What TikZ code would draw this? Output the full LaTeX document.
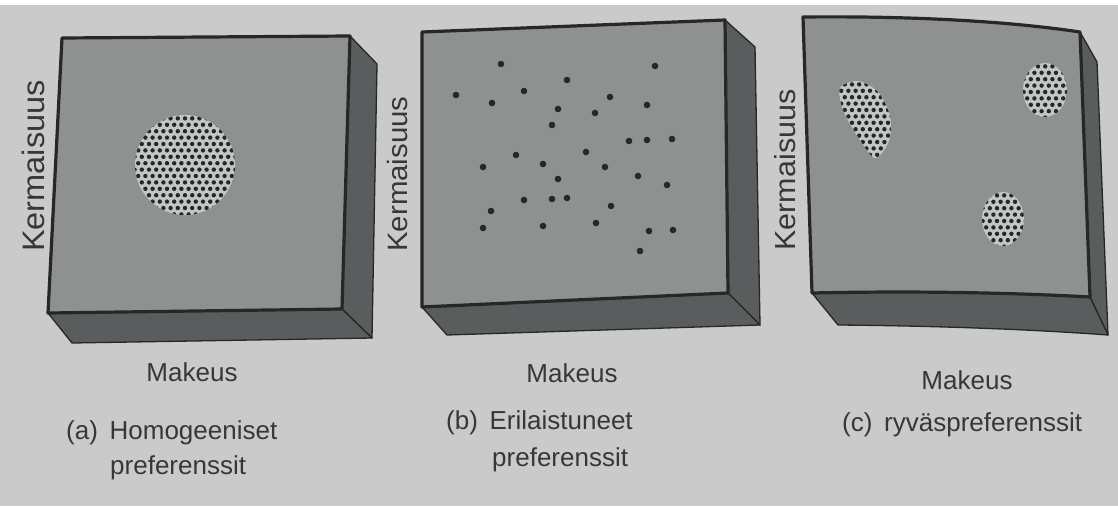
\documentclass[tikz,border=0pt]{standalone}
\usepackage{fontspec}
\setmainfont{Liberation Sans}
\definecolor{paper}{HTML}{C9CAC9}
\definecolor{face}{HTML}{8F9191}
\definecolor{sideface}{HTML}{5A5D5E}
\definecolor{edge}{HTML}{262727}
\definecolor{blobbg}{HTML}{C4C5C5}
\definecolor{dotc}{HTML}{262728}
\definecolor{ink}{HTML}{363737}
\newcommand\mydotgrid[4]{%
  \foreach \j in {0,...,#4}{%
    \foreach \i in {0,...,#3}{%
      \pgfmathsetmacro\px{#1+\i*7.2+mod(\j,2)*3.6}%
      \pgfmathsetmacro\py{#2+\j*6.4}%
      \fill[dotc] (\px,\py) circle[radius=2.2];
    }%
  }%
}
\tikzset{
  frontface/.style={fill=face, draw=edge, line width=3.2pt, line join=round},
  sideface/.style={fill=sideface, draw=edge, line width=1.3pt, line join=round},
  axislabel/.style={text=ink, inner sep=0pt},
  caption/.style={text=ink, inner sep=0pt, anchor=west, font=\fontsize{26}{30}\selectfont},
  scatterdot/.style={fill=dotc},
}
\begin{document}
\begin{tikzpicture}[x=1pt,y=-1pt]
\useasboundingbox (0,0) rectangle (1118,506);
\fill[paper] (0,0) rectangle (1118,506);
\fill[white] (0,0) rectangle (1118,5);

% ---------- Panel (a) ----------
\draw[sideface] (350,36) -- (377,64) -- (372,338) -- (342,309) -- cycle;
\draw[sideface] (48,313) -- (72,343) -- (372,338) -- (342,309) -- cycle;
\draw[frontface] (62,38) -- (350,36) -- (342,309) -- (48,313) -- cycle;
\begin{scope}
  \clip (185,165) circle[radius=50];
  \fill[blobbg] (185,165) circle[radius=50];
  \mydotgrid{131}{112}{15}{17}
\end{scope}
\node[axislabel, rotate=90, font=\fontsize{31}{34}\selectfont] (ka) at (33,166) {\scalebox{1.05}[1]{Kermaisuus}};
\node[axislabel, font=\fontsize{26}{30}\selectfont] (ma) at (192,372) {Makeus};
\node[caption] (ca) at (66,433) {(a)\hspace{0.45em}Homogeeniset};
\node[caption] (cap) at (110,468) {preferenssit};

% ---------- Panel (b) ----------
\draw[sideface] (725,20) -- (755,47) -- (760,325) -- (728,293) -- cycle;
\draw[sideface] (422,307) -- (447,335) -- (760,325) -- (728,293) -- cycle;
\draw[frontface] (422,32) -- (725,20) -- (728,293) -- (422,307) -- cycle;
\foreach \x/\y in {501/64,655/66,567/80,456/95,524/91,610/97,492/103,647/105,558/109,595/113,552/125,629/141,647/140,672/139,516/155,586/152,483/167,543/164,605/167,558/179,638/176,667/185,524/200,552/199,567/198,491/211,611/206,483/228,543/226,596/223,649/231,673/230,640/251}
  \fill[scatterdot] (\x,\y) circle[radius=3.3];
\node[axislabel, rotate=90, font=\fontsize{28}{32}\selectfont] (kb) at (397,174) {\scalebox{1.05}[1]{Kermaisuus}};
\node[axislabel, font=\fontsize{26}{30}\selectfont] (mb) at (572,373) {Makeus};
\node[caption] (cb) at (446,423) {(b)\hspace{0.45em}Erilaistuneet};
\node[caption] (cbp) at (492,460) {preferenssit};

% ---------- Panel (c) ----------
\draw[sideface] (1080,32) -- (1097,62) -- (1108,335) -- (1090,297) -- cycle;
\draw[sideface] (812,293) -- (838,325) .. controls (950,326) and (1040,330) .. (1108,335) -- (1090,297) .. controls (1000,292) and (900,291) .. (812,293) -- cycle;
\draw[frontface] (803,17) .. controls (900,16) and (1000,20) .. (1080,32) -- (1090,297) .. controls (1000,292) and (900,291) .. (812,293) -- cycle;
\begin{scope}
  \clip plot[smooth cycle] coordinates {(840,88) (858,81) (878,92) (890,116) (889,141) (875,158) (858,137) (843,110)};
  \fill[blobbg] (830,75) rectangle (895,162);
  \mydotgrid{834}{78}{9}{13}
\end{scope}
\begin{scope}
  \clip (1045,90) ellipse[x radius=22, y radius=27];
  \fill[blobbg] (1045,90) ellipse[x radius=22, y radius=27];
  \mydotgrid{1020}{60}{7}{9}
\end{scope}
\begin{scope}
  \clip (1003,219) ellipse[x radius=21, y radius=27];
  \fill[blobbg] (1003,219) ellipse[x radius=21, y radius=27];
  \mydotgrid{979}{189}{7}{9}
\end{scope}
\node[axislabel, rotate=90, font=\fontsize{29}{32}\selectfont] (kc) at (785,170) {\scalebox{1.05}[1]{Kermaisuus}};
\node[axislabel, font=\fontsize{26}{30}\selectfont] (mc) at (967,380) {Makeus};
\node[caption] (cc) at (842,425) {(c)\hspace{0.45em}ryväspreferenssit};
\end{tikzpicture}
\end{document}
